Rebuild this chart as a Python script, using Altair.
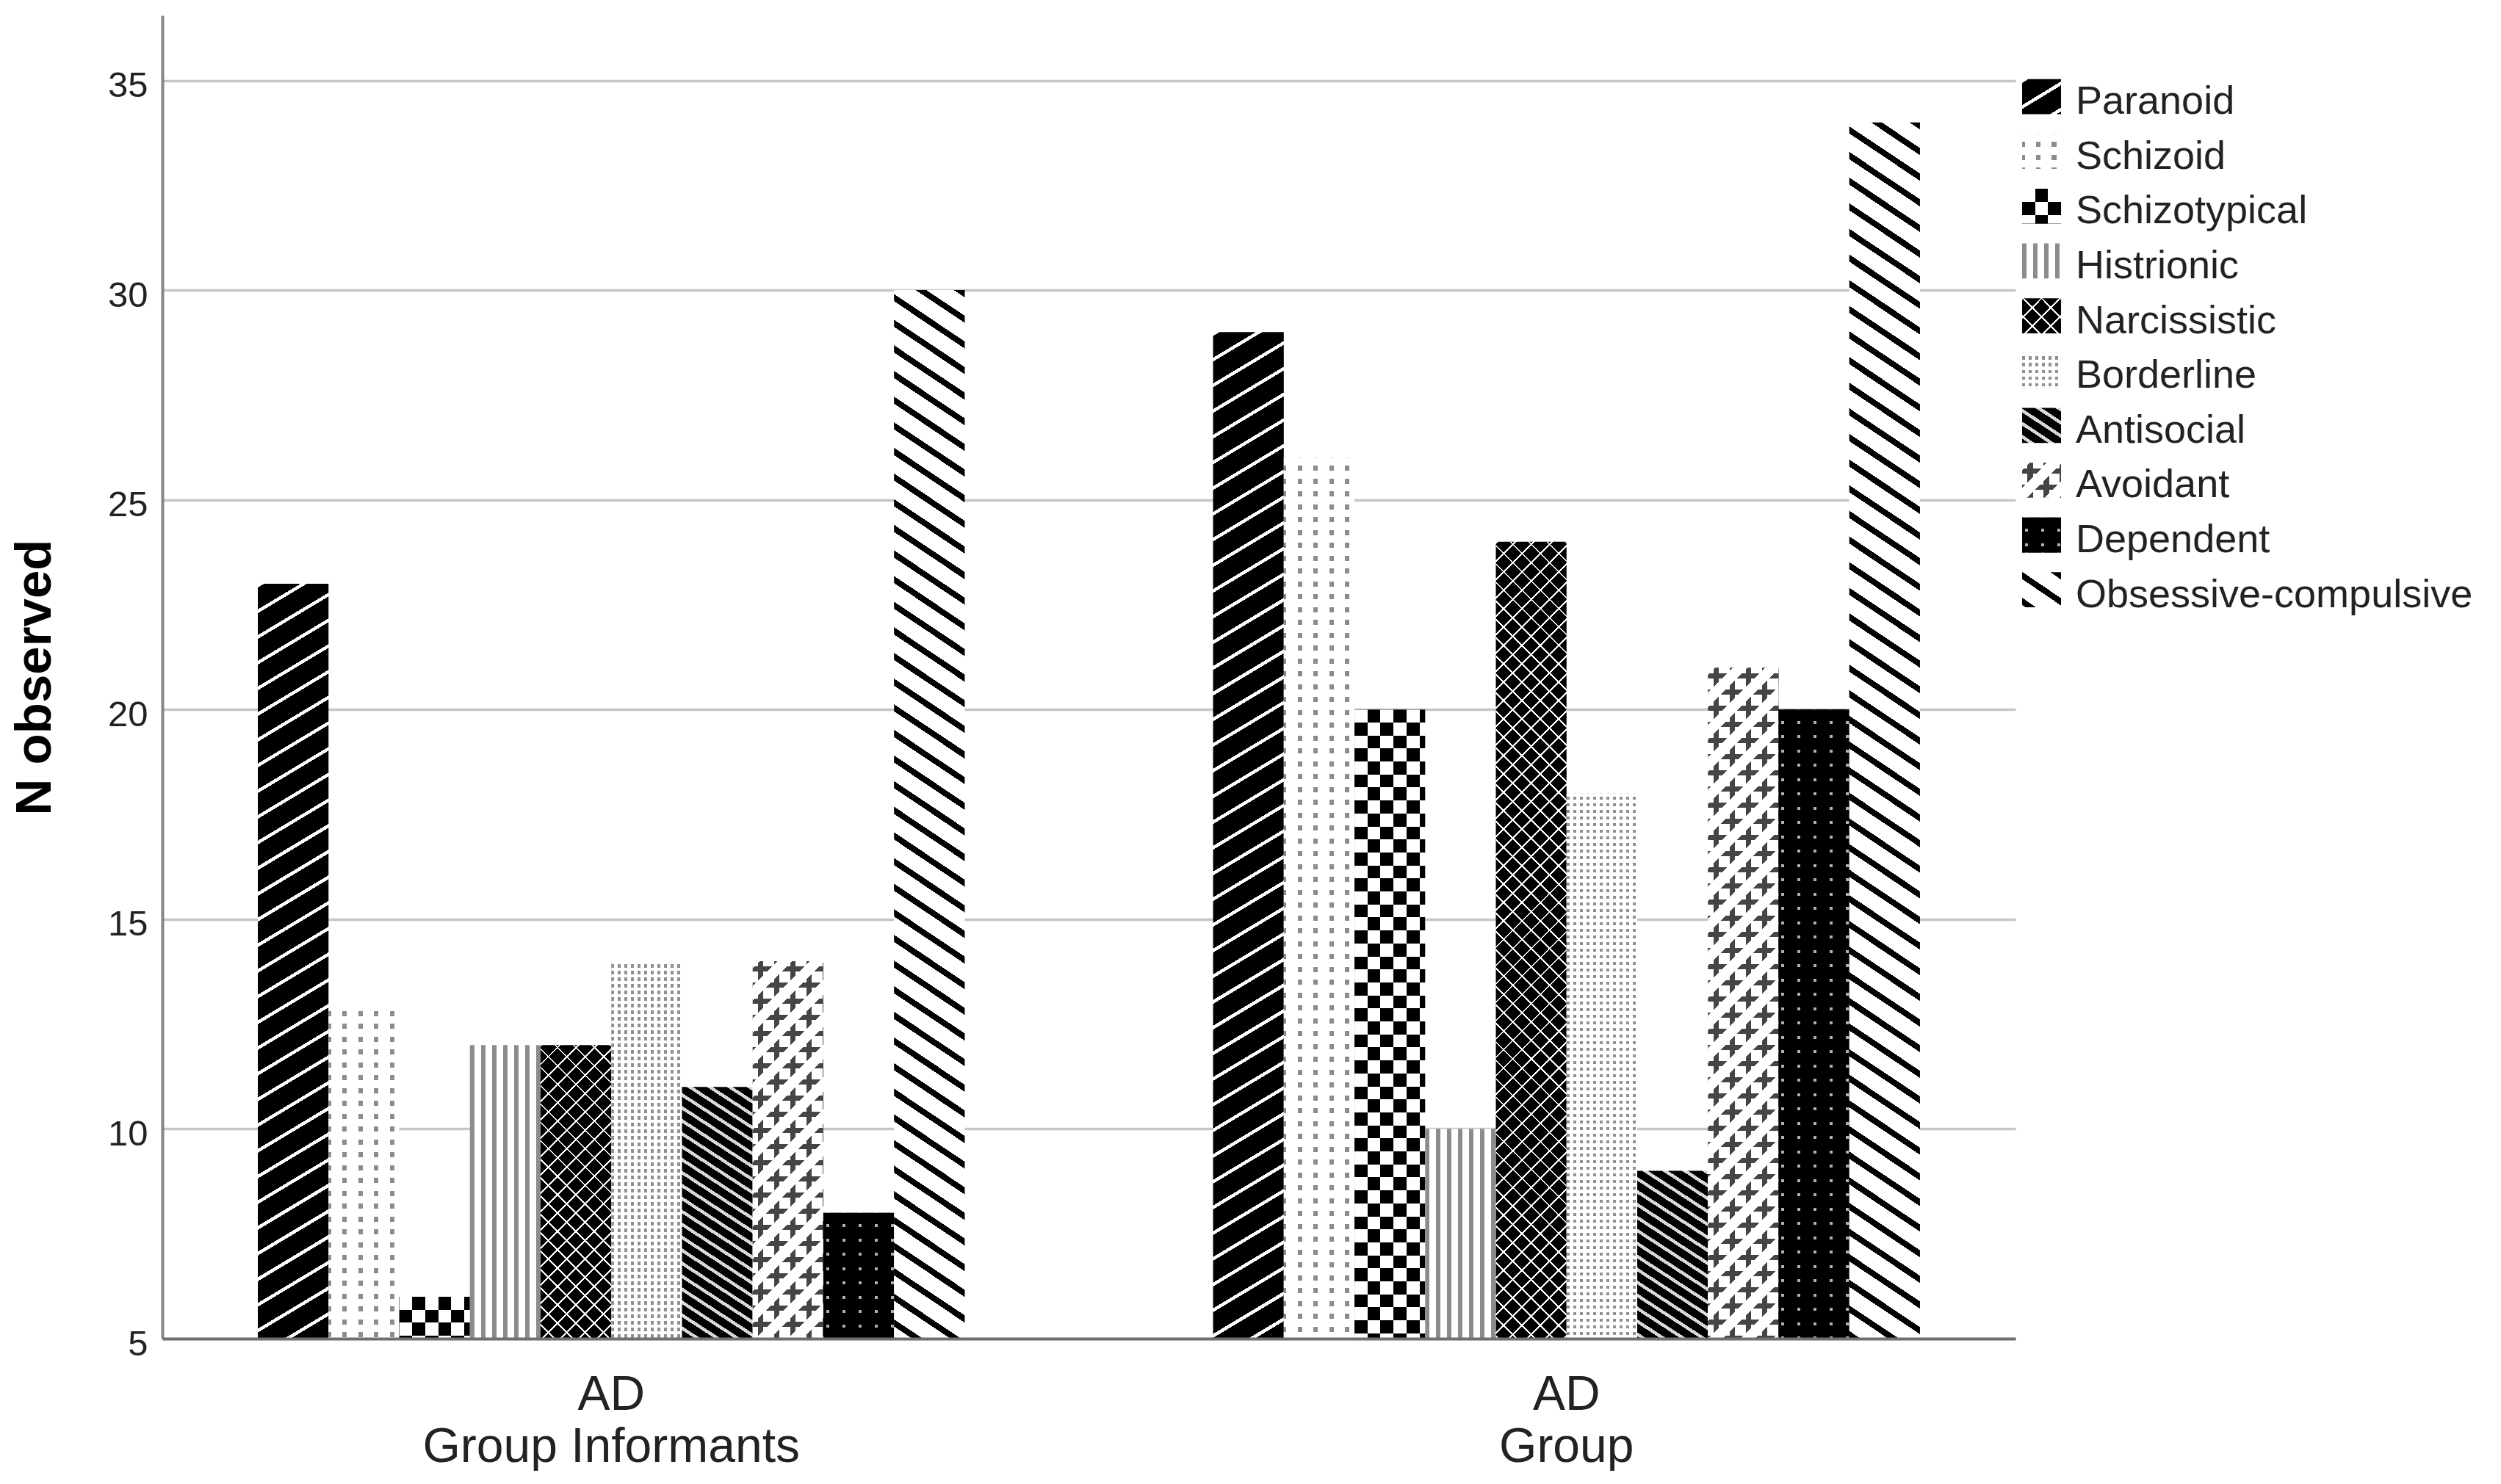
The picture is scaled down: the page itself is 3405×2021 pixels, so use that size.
import math
import altair as alt
import pandas as pd

# ---------------- data ----------------
groups = ["AD\nGroup Informants", "AD\nGroup"]
disorders = ["Paranoid", "Schizoid", "Schizotypical", "Histrionic", "Narcissistic",
             "Borderline", "Antisocial", "Avoidant", "Dependent", "Obsessive-compulsive"]
n_informants = [23, 13, 6, 12, 12, 14, 11, 14, 8, 30]
n_patients = [29, 26, 20, 10, 24, 18, 9, 21, 20, 34]
y_ticks = [5, 10, 15, 20, 25, 30, 35]
y_top = 36.55

# ---------------- layout / style ----------------
FONT = "Liberation Sans"
PLOT_W, PLOT_H = 2523, 1802
X_PAD_IN, X_PAD_OUT = 0.26, 0.1
LEG_W, LEG_STEP, LEG_PAD_IN, LEG_PAD_OUT = 630, 73.6, 0.36, 1.0
LEG_SHIFT = 12
LEG_SW_W = 53

rows = []
for g, vals in zip(groups, [n_informants, n_patients]):
    for d, v in zip(disorders, vals):
        rows.append({"Group": g, "Disorder": d, "N": v, "Key": g + "|" + d})
df = pd.DataFrame(rows)
leg_df = pd.DataFrame({"Disorder": disorders})

W, B, T = "#ffffff", "#000000", "rgba(0,0,0,0)"


def pat(normal, period, segs, phase=0.0, **mark):
    return dict(normal=normal, period=period, segs=segs, phase=phase, mark=mark)


R2 = math.sqrt(2)
patterns = {
    "Paranoid": [pat((0.6, 1), 30, [(0, .15, W), (.15, 1, B)])],
    "Schizoid": [pat((1, 0), 21.5, [(0, .28, "#8c8c8c"), (.28, 1, W)], phase=19),
                 pat((0, 1), 17.5, [(0, .6, W), (.6, 1, T)])],
    "Schizotypical": [pat((1, 0), 35.4, [(0, .5, B), (.5, 1, W)]),
                      pat((0, 1), 35.4, [(0, .5, W), (.5, 1, B)], blend="difference")],
    "Histrionic": [pat((1, 0), 15, [(0, .4, "#8c8c8c"), (.4, 1, W)])],
    "Narcissistic": [pat((1, 1), 17.7, [(0, .11, W), (.11, 1, B)]),
                     pat((-1, 1), 17.7, [(0, .11, W), (.11, 1, T)])],
    "Borderline": [pat((1, 0), 9, [(0, .45, "#909090"), (.45, 1, W)]),
                   pat((0, 1), 9, [(0, .5, W), (.5, 1, T)])],
    "Antisocial": [pat((-0.65, 1), 14.8, [(0, .3, "#d8d8d8"), (.3, 1, B)])],
    "Avoidant": [pat((1, 0), 22, [(0, .34, W), (.34, .66, "#454545"), (.66, 1, W)]),
                 pat((0, 1), 22, [(0, .34, T), (.34, .66, "#454545"), (.66, 1, T)]),
                 pat((1, 1), 44 / R2, [(0, .23, W), (.23, .77, T), (.77, 1, W)])],
    "Dependent": [pat((1, 0), 22, [(0, .18, B), (.18, .36, "#b0b0b0"), (.36, 1, B)]),
                  pat((0, 1), 19.5, [(0, .8, B), (.8, 1, T)])],
    "Obsessive-compulsive": [pat((-0.67, 1), 29, [(0, .28, B), (.28, 1, W)])],
}


def gradient(w, h, p):
    nx, ny = p["normal"]
    n = math.hypot(nx, ny)
    nx, ny = nx / n, ny / n
    L = abs(w * nx) + abs(h * ny)
    D = (w * nx) ** 2 + (h * ny) ** 2
    x1 = 0.0 if nx >= 0 else 1.0
    y1 = 0.0 if ny >= 0 else 1.0
    a, b = L * w * nx / D, L * h * ny / D
    per, ph = p["period"], p["phase"]
    stops = []
    k = -int(ph // per) - 1
    while ph + k * per < L:
        for s0, s1, col in p["segs"]:
            u0 = max(ph + (k + s0) * per, 0.0)
            u1 = min(ph + (k + s1) * per, L)
            if u1 > u0:
                stops.append(alt.GradientStop(offset=round(u0 / L, 5), color=col))
                stops.append(alt.GradientStop(offset=round(u1 / L, 5), color=col))
        k += 1
    return alt.LinearGradient(gradient="linear", x1=x1, y1=y1,
                              x2=round(x1 + a, 6), y2=round(y1 + b, 6), stops=stops)


# ---------------- main chart ----------------
x_enc = alt.X("Group:N", sort=groups,
              scale=alt.Scale(domain=groups, paddingInner=X_PAD_IN, paddingOuter=X_PAD_OUT),
              axis=alt.Axis(title=None, labelExpr="split(datum.value, '\\n')",
                            labelFont=FONT, labelFontSize=66, labelLineHeight=71,
                            labelColor="#222222", labelPadding=44, labelAngle=0,
                            labelBaseline="top", labelLimit=1000, ticks=False, grid=False,
                            domainColor="#707070", domainWidth=4, zindex=1))
xo_enc = alt.XOffset("Disorder:N", sort=disorders,
                     scale=alt.Scale(domain=disorders, paddingInner=0, paddingOuter=0))
y_enc = alt.Y("N:Q", scale=alt.Scale(domain=[y_ticks[0], y_top], nice=False, zero=False),
              axis=alt.Axis(values=y_ticks, title="N observed", titleFont=FONT,
                            titleFontSize=69, titleFontWeight="bold", titleColor="#000000",
                            titleX=-174, titleY=PLOT_H / 2, titleAngle=270,
                            titleAlign="center", titleBaseline="middle",
                            labelFont=FONT, labelFontSize=49, labelColor="#222222",
                            labelPadding=20, labelOffset=7, ticks=False,
                            domainColor="#858585", domainWidth=4,
                            gridColor="#c6c6c6", gridWidth=3.5))

bar_w = PLOT_W / (len(groups) - X_PAD_IN + 2 * X_PAD_OUT) * (1 - X_PAD_IN) / len(disorders)

layers = []
for g, vals in zip(groups, [n_informants, n_patients]):
    for d, v in zip(disorders, vals):
        h = (v - y_ticks[0]) / (y_top - y_ticks[0]) * PLOT_H
        for p in patterns[d]:
            layers.append(
                alt.Chart(df)
                .transform_filter(alt.FieldEqualPredicate(field="Key", equal=g + "|" + d))
                .mark_bar(fill=gradient(bar_w, h, p), **p["mark"])
                .encode(x=x_enc, xOffset=xo_enc, y=y_enc, y2=alt.datum(y_ticks[0]))
            )

main = alt.layer(*layers).properties(width=PLOT_W, height=PLOT_H)

# ---------------- legend ----------------
leg_y = alt.Y("Disorder:N", sort=disorders,
              scale=alt.Scale(domain=disorders, paddingInner=LEG_PAD_IN, paddingOuter=LEG_PAD_OUT),
              axis=None)
leg_h = LEG_STEP * (len(disorders) - LEG_PAD_IN + 2 * LEG_PAD_OUT) + LEG_SHIFT
sw_h = LEG_STEP * (1 - LEG_PAD_IN)

leg_layers = []
for d in disorders:
    for p in patterns[d]:
        leg_layers.append(
            alt.Chart(leg_df)
            .transform_filter(alt.FieldEqualPredicate(field="Disorder", equal=d))
            .mark_rect(fill=gradient(LEG_SW_W, sw_h, p), yOffset=LEG_SHIFT, **p["mark"])
            .encode(y=leg_y, x=alt.value(0), x2=alt.value(LEG_SW_W))
        )
leg_layers.append(
    alt.Chart(leg_df)
    .mark_text(align="left", baseline="alphabetic", dy=sw_h / 2 + LEG_SHIFT, font=FONT,
               fontSize=54, color="#222222")
    .encode(y=leg_y, x=alt.value(LEG_SW_W + 20), text="Disorder:N")
)
legend = alt.layer(*leg_layers).properties(width=LEG_W, height=leg_h)

chart = (
    alt.hconcat(main, legend, spacing=9)
    .properties(padding={"left": 5, "top": 13, "right": 0, "bottom": 0})
    .configure_view(strokeWidth=0)
)

chart.save("out.html", embed_options={"renderer": "svg", "actions": False})
